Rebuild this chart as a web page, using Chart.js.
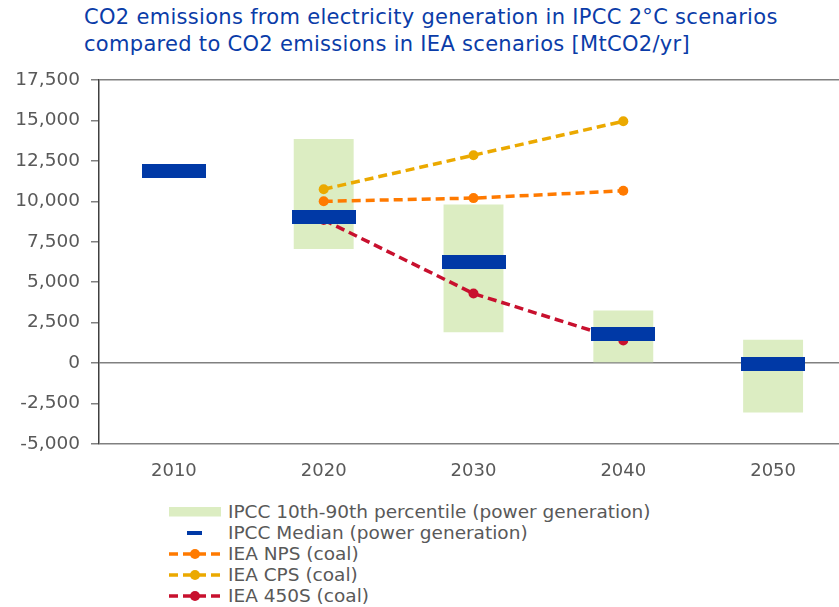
<!DOCTYPE html>
<html>
<head>
<meta charset="utf-8">
<script src="https://cdn.jsdelivr.net/npm/chart.js@4"></script>
<style>
  html, body { margin: 0; overflow: hidden; background: #fff; }
  #title { position: absolute; left: 84px; top: 4px; font-family: "DejaVu Sans", sans-serif;
           font-size: 21px; line-height: 27px; letter-spacing: 0.3px; color: #0A3CA8; white-space: nowrap; }
  #box { position: absolute; left: 0; top: 0; width: 855px; height: 490px; }
  #legend { position: absolute; left: 169px; top: 501px; font-family: "DejaVu Sans", sans-serif; font-size: 18.5px; color: #595959; }
  .row { display: flex; align-items: center; height: 21px; white-space: nowrap; }
  .sym { width: 52px; height: 21px; margin-right: 7px; }
</style>
</head>
<body>
<div id="title">CO2 emissions from electricity generation in IPCC 2°C scenarios<br>compared to CO2 emissions in IEA scenarios [MtCO2/yr]</div>
<div id="box"><canvas id="co2Chart"></canvas></div>
<div id="legend"></div>
<script>
    let years = ["2010", "2020", "2030", "2040", "2050"];
    let ipccRange = [null, [7050, 13850], [1900, 9800], [0, 3250], [-3050, 1450]];
    let ipccMedian = [11900, 9050, 6250, 1800, -50];
    let ieaNps = [null, 10000, 10200, 10650, null];
    let ieaCps = [null, 10750, 12850, 14950, null];
    let iea450 = [null, 8850, 4300, 1400, null];
    let yTicks = { min: -5000, max: 17500, step: 2500 };

    let edgeLines = [yTicks.min, 0, yTicks.max];
    let medianBlue = "#0039A6";

    // wide flat marker for the median, used as a point style image
    let medianMark = document.createElement("canvas");
    medianMark.width = 64;
    medianMark.height = 14;
    let mctx = medianMark.getContext("2d");
    mctx.fillStyle = medianBlue;
    mctx.fillRect(0, 0, 64, 14);

    let dashed = (label, data, color) => ({
        type: "line",
        label,
        data,
        borderColor: color,
        backgroundColor: color,
        borderWidth: 3.5,
        borderDash: [9, 5],
        pointRadius: 5,
        pointHoverRadius: 5,
        pointBorderWidth: 0,
        fill: false,
        order: 2
    });

    let chart = new Chart(document.getElementById("co2Chart"), {
        type: "bar",
        data: {
            labels: years,
            datasets: [{
                type: "bar",
                label: "IPCC 10th-90th percentile (power generation)",
                data: ipccRange,
                backgroundColor: "#DCEDC2",
                barPercentage: 0.4,
                categoryPercentage: 1,
                order: 3
            }, {
                type: "line",
                label: "IPCC Median (power generation)",
                data: ipccMedian,
                showLine: false,
                pointStyle: medianMark,
                pointRadius: 7,
                pointHoverRadius: 7,
                pointBorderWidth: 0,
                borderColor: medianBlue,
                backgroundColor: medianBlue,
                order: 1
            },
            dashed("IEA NPS (coal)", ieaNps, "#FF7A00"),
            dashed("IEA CPS (coal)", ieaCps, "#EBA900"),
            dashed("IEA 450S (coal)", iea450, "#C8102E")]
        },
        options: {
            responsive: true,
            maintainAspectRatio: false,
            animation: false,
            locale: "en-US",
            layout: { padding: { top: 80, left: 0, right: 0, bottom: 0 } },
            plugins: {
                legend: { display: false },
                title: { display: false },
                tooltip: { enabled: false }
            },
            scales: {
                x: {
                    grid: { display: false },
                    border: { display: false },
                    ticks: { color: "#595959", font: { family: "DejaVu Sans", size: 18 }, padding: 9 },
                    afterFit: s => { s.height = 46; }
                },
                y: {
                    min: yTicks.min,
                    max: yTicks.max,
                    ticks: { stepSize: yTicks.step, color: "#595959", font: { family: "DejaVu Sans", size: 18.5 }, padding: 11 },
                    grid: {
                        color: c => edgeLines.includes(c.tick.value) ? "#808080" : "rgba(0,0,0,0)",
                        tickColor: "#808080",
                        tickLength: 8,
                        lineWidth: 1.5
                    },
                    border: { color: "#404040", width: 1.5 },
                    afterFit: s => { s.width = 99; }
                }
            }
        }
    });

    // legend built from the chart's own datasets
    let legend = document.getElementById("legend");
    chart.data.datasets.forEach((ds, i) => {
        let sym;
        if (i === 0) {
            sym = `<svg class="sym"><rect x="0" y="6" width="52" height="9.5" fill="${ds.backgroundColor}"/></svg>`;
        } else if (i === 1) {
            sym = `<svg class="sym"><rect x="18" y="9" width="15" height="4" fill="${ds.borderColor}"/></svg>`;
        } else {
            sym = `<svg class="sym"><line x1="0" y1="11" x2="52" y2="11" stroke="${ds.borderColor}" stroke-width="3.5" stroke-dasharray="9,5"/>` +
                  `<circle cx="26" cy="11" r="5" fill="${ds.borderColor}"/></svg>`;
        }
        let row = document.createElement("div");
        row.className = "row";
        row.innerHTML = sym + `<span>${ds.label}</span>`;
        legend.appendChild(row);
    });
</script>
</body>
</html>
